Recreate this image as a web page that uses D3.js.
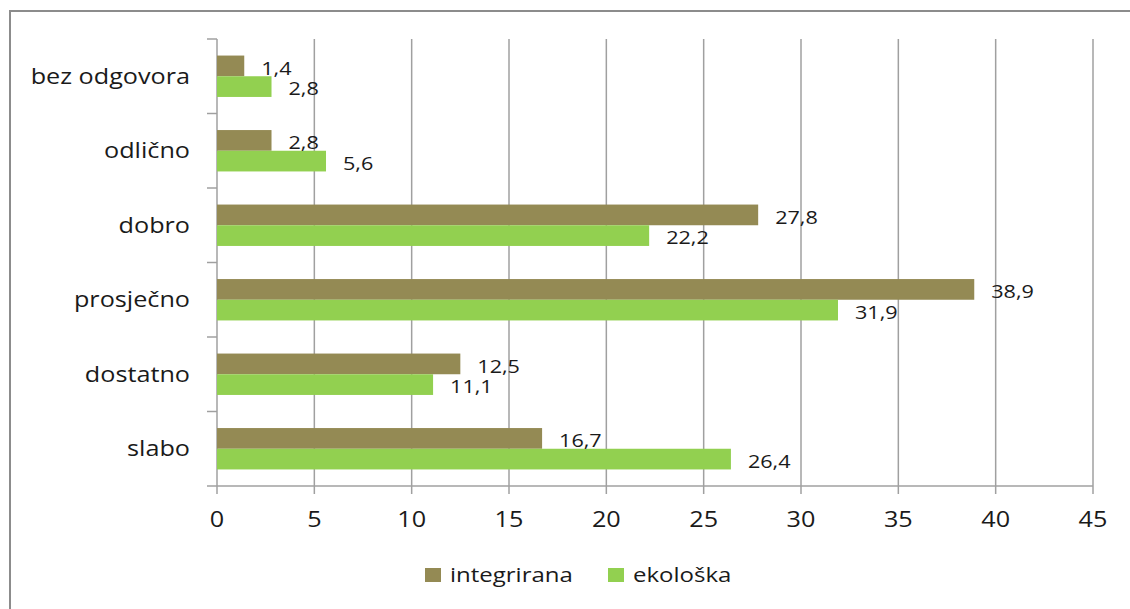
<!DOCTYPE html>
<html>
<head>
<meta charset="utf-8">
<script src="https://cdn.jsdelivr.net/npm/d3@7"></script>
<style>
  body { margin: 0; background: #fff; }
  text { font-family: "Open Sans", sans-serif; fill: #1a1a1a; }
</style>
</head>
<body>
<script>
var w = 1130;
var h = 609;

// categories from top to bottom
var categories = ["bez odgovora", "odlično", "dobro", "prosječno", "dostatno", "slabo"];
var integrirana = [1.4, 2.8, 27.8, 38.9, 12.5, 16.7];
var ekoloska = [2.8, 5.6, 22.2, 31.9, 11.1, 26.4];
var seriesNames = ["integrirana", "ekološka"];
var xTicks = [0, 5, 10, 15, 20, 25, 30, 35, 40, 45];

var colors = ["#948A54", "#92D050"];

var plotLeft = 217, plotRight = 1093, plotTop = 39, plotBottom = 486;
// the original text looks stretched sideways
var stretch = 1.2;

function at(fx, fy) {
  return function(d, i) {
    return "translate(" + fx(d, i) + "," + fy(d, i) + ") scale(" + stretch + ",1)";
  };
}

var svg = d3.select("body").append("svg")
  .attr("width", w)
  .attr("height", h);

// frame round the chart
svg.append("rect")
  .attr("x", 10).attr("y", 11)
  .attr("width", 1140).attr("height", 620)
  .attr("fill", "none")
  .attr("stroke", "#8c8c8c")
  .attr("stroke-width", 2);

var x = d3.scaleLinear().domain([0, 45]).range([plotLeft, plotRight]);
var y = d3.scaleBand().domain(categories).range([plotTop, plotBottom]);
var inner = d3.scaleBand().domain(seriesNames).range([0, y.bandwidth()]).paddingOuter(0.8).paddingInner(0);

// vertical gridlines
svg.selectAll("line.grid")
  .data(xTicks)
  .enter()
  .append("line")
  .attr("class", "grid")
  .attr("x1", function(d){ return x(d); })
  .attr("x2", function(d){ return x(d); })
  .attr("y1", plotTop)
  .attr("y2", plotBottom + 8)
  .attr("stroke", "#a0a0a0")
  .attr("stroke-width", 1.5);

// left axis ticks at band edges
var edges = categories.map(function(c){ return y(c); }).concat([plotBottom]);
svg.selectAll("line.ytick")
  .data(edges)
  .enter()
  .append("line")
  .attr("class", "ytick")
  .attr("x1", plotLeft - 10)
  .attr("x2", plotLeft)
  .attr("y1", function(d){ return d; })
  .attr("y2", function(d){ return d; })
  .attr("stroke", "#a0a0a0")
  .attr("stroke-width", 1.5);

// bottom axis line
svg.append("line")
  .attr("x1", plotLeft).attr("x2", plotRight)
  .attr("y1", plotBottom).attr("y2", plotBottom)
  .attr("stroke", "#a0a0a0")
  .attr("stroke-width", 1.5);

svg.selectAll("text.xlab")
  .data(xTicks)
  .enter()
  .append("text")
  .attr("class", "xlab")
  .attr("transform", at(function(d){ return x(d); }, function(){ return 520; }))
  .attr("dy", "0.35em")
  .attr("text-anchor", "middle")
  .attr("font-size", "21px")
  .text(function(d){ return d; });

svg.selectAll("text.ylab")
  .data(categories)
  .enter()
  .append("text")
  .attr("class", "ylab")
  .attr("transform", at(function(){ return 190; }, function(d){ return y(d) + y.bandwidth() / 2; }))
  .attr("dy", "0.35em")
  .attr("text-anchor", "end")
  .attr("font-size", "21px")
  .text(function(d){ return d; });

var rows = [];
categories.forEach(function(c, i){
  rows.push({cat: c, s: 0, v: integrirana[i]});
  rows.push({cat: c, s: 1, v: ekoloska[i]});
});

svg.selectAll("rect.bar")
  .data(rows)
  .enter()
  .append("rect")
  .attr("class", "bar")
  .attr("x", x(0))
  .attr("y", function(d){ return y(d.cat) + inner(seriesNames[d.s]); })
  .attr("width", function(d){ return x(d.v) - x(0); })
  .attr("height", inner.bandwidth())
  .attr("fill", function(d){ return colors[d.s]; });

svg.selectAll("text.val")
  .data(rows)
  .enter()
  .append("text")
  .attr("class", "val")
  .attr("transform", at(function(d){ return x(d.v) + 17; },
    function(d){ return y(d.cat) + inner(seriesNames[d.s]) + inner.bandwidth() / 2 + 2.5; }))
  .attr("dy", "0.35em")
  .attr("font-size", "18px")
  .text(function(d){ return String(d.v).replace(".", ","); });

// legend
var legendX = [425, 608];
var legend = svg.selectAll("g.legend")
  .data(seriesNames)
  .enter()
  .append("g")
  .attr("class", "legend")
  .attr("transform", function(d, i){ return "translate(" + legendX[i] + ",568)"; });

legend.append("rect")
  .attr("width", 16).attr("height", 14)
  .attr("fill", function(d, i){ return colors[i]; });

legend.append("text")
  .attr("transform", at(function(){ return 25; }, function(){ return 7; }))
  .attr("dy", "0.35em")
  .attr("font-size", "20px")
  .text(function(d){ return d; });
</script>
</body>
</html>
